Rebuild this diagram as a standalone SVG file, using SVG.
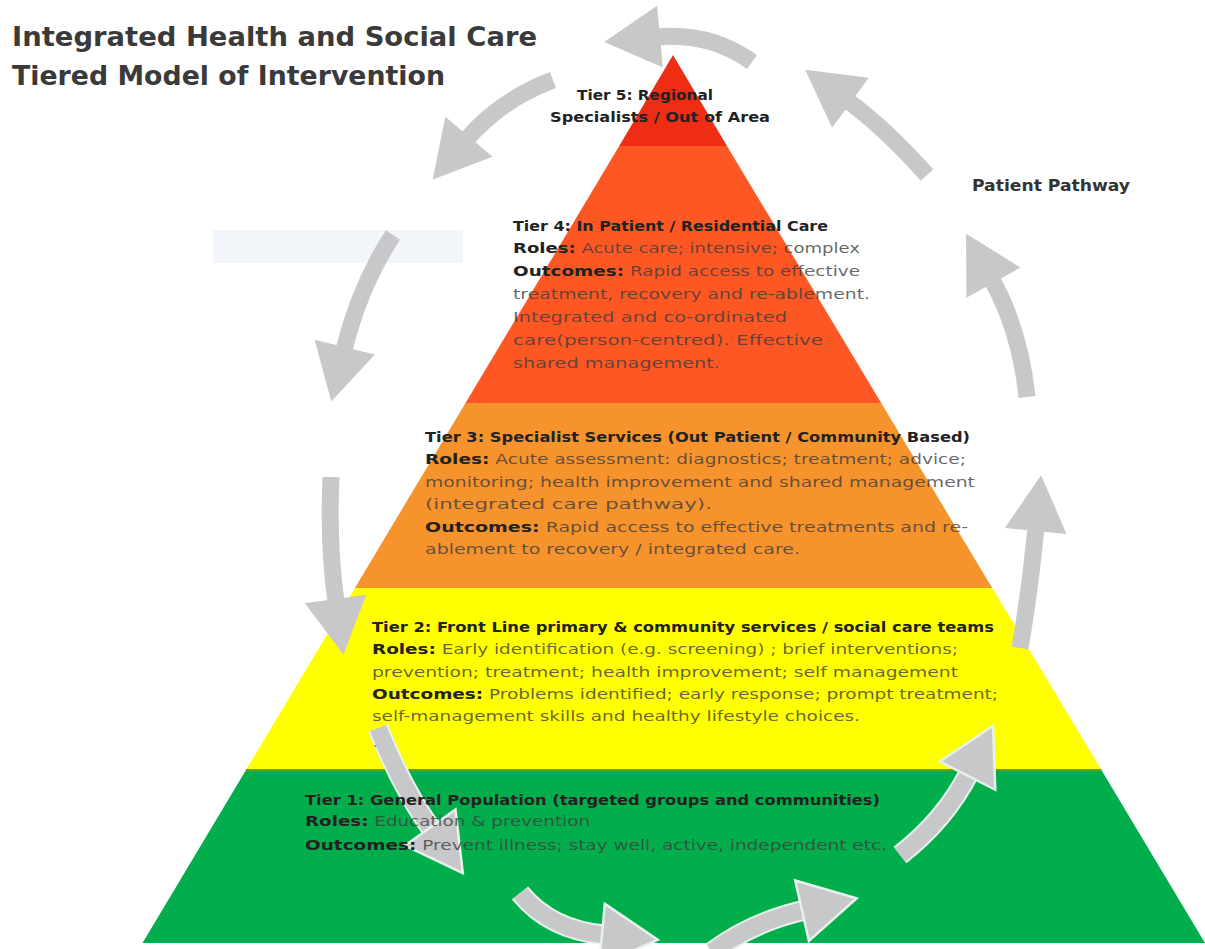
<svg xmlns="http://www.w3.org/2000/svg" width="1205" height="949" viewBox="0 0 1205 949">
<style>
.t{font-family:"DejaVu Sans","Liberation Sans",sans-serif;font-size:14.5px;fill:#3d3d3d;fill-opacity:0.78}
.b{font-weight:bold;fill:#222;fill-opacity:1}
.title{font-family:"DejaVu Sans","Liberation Sans",sans-serif;font-size:27px;font-weight:bold;fill:#3a3a3a}
.sh{fill:none;stroke:#C8C8CA;stroke-width:17}
.ol{fill:none;stroke:#E6F3EC;stroke-width:21}
</style>
<defs>
<marker id="ah" markerUnits="userSpaceOnUse" markerWidth="56" markerHeight="62" viewBox="0 0 56 62" refX="3" refY="31" orient="auto" overflow="visible"><path d="M0,0 L56,31 L0,62 Z" fill="#C8C8CA"/></marker>
<marker id="ah2" markerUnits="userSpaceOnUse" markerWidth="56" markerHeight="62" viewBox="0 0 56 62" refX="3" refY="31" orient="auto" overflow="visible"><path d="M0,0 L56,31 L0,62 Z" fill="#C8C8CA" stroke="#E6F3EC" stroke-width="2.5"/></marker>
</defs>
<rect width="1205" height="949" fill="#fff"/>
<rect x="213" y="230" width="250" height="33" fill="#F2F5FA"/>
<g id="title">
<text class="title" x="12" y="46" textLength="525" lengthAdjust="spacingAndGlyphs">Integrated Health and Social Care</text>
<text class="title" x="12" y="85" textLength="433" lengthAdjust="spacingAndGlyphs">Tiered Model of Intervention</text>
</g>
<g id="tier5"><polygon points="673,55 727,146 619.2,146" fill="#EE2D14"/></g>
<g id="tier4"><polygon points="619.2,146 727,146 881.2,403 465.5,403" fill="#FD5723"/></g>
<g id="tier3"><polygon points="465.5,403 881.2,403 992.2,588 354.9,588" fill="#F7932C"/></g>
<g id="tier2"><polygon points="354.9,588 992.2,588 1101.4,770 246,770" fill="#FFFF00"/></g>
<g id="tier1"><polygon points="246,770 1101.4,770 1205,943 142.5,943" fill="#02AE4C"/><line x1="246" y1="770" x2="1101.4" y2="770" stroke="#6A9A1E" stroke-width="2"/></g>
<g id="connectors">
<path class="sh" d="M927,175 Q885,128 848,101" marker-end="url(#ah)"/>
<path class="sh" d="M752,62 Q710,32 657,37" marker-end="url(#ah)"/>
<path class="sh" d="M553,80 Q500,100 467,139" marker-end="url(#ah)"/>
<path class="sh" d="M393,235 Q360,285 344,350" marker-end="url(#ah)"/>
<path class="sh" d="M331,477 Q328,545 336,602" marker-end="url(#ah)"/>
<path class="ol" d="M378,728 Q402,788 432,830"/>
<path class="sh" d="M378,728 Q402,788 432,830" marker-end="url(#ah2)"/>
<path class="ol" d="M520,893 Q550,930 605,935"/>
<path class="sh" d="M520,893 Q550,930 605,935" marker-end="url(#ah2)"/>
<path class="ol" d="M712,952 Q752,922 805,910"/>
<path class="sh" d="M712,952 Q752,922 805,910" marker-end="url(#ah2)"/>
<path class="ol" d="M900,855 Q945,820 969,773"/>
<path class="sh" d="M900,855 Q945,820 969,773" marker-end="url(#ah2)"/>
<path class="sh" d="M1020,648 Q1030,590 1036,528" marker-end="url(#ah)"/>
<path class="sh" d="M1027,397 Q1020,330 992,280" marker-end="url(#ah)"/>
</g>
<g id="tier5-text">
<text class="t b" x="577" y="100" textLength="136" lengthAdjust="spacingAndGlyphs">Tier 5: Regional</text>
<text class="t b" x="550" y="122" textLength="220" lengthAdjust="spacingAndGlyphs">Specialists / Out of Area</text>
</g>
<g id="tier4-text">
<text class="t b" x="513" y="231" textLength="315" lengthAdjust="spacingAndGlyphs">Tier 4: In Patient / Residential Care</text>
<text class="t" x="513" y="253" textLength="347" lengthAdjust="spacingAndGlyphs"><tspan class="b">Roles:</tspan> Acute care; intensive; complex</text>
<text class="t" x="513" y="276" textLength="347" lengthAdjust="spacingAndGlyphs"><tspan class="b">Outcomes:</tspan>  Rapid access to effective</text>
<text class="t" x="513" y="299" textLength="357" lengthAdjust="spacingAndGlyphs">treatment, recovery and re-ablement.</text>
<text class="t" x="513" y="322" textLength="274" lengthAdjust="spacingAndGlyphs">Integrated and co-ordinated</text>
<text class="t" x="513" y="345" textLength="310" lengthAdjust="spacingAndGlyphs">care(person-centred).  Effective</text>
<text class="t" x="513" y="368" textLength="207" lengthAdjust="spacingAndGlyphs">shared management.</text>
</g>
<g id="tier3-text">
<text class="t b" x="425" y="442" textLength="545" lengthAdjust="spacingAndGlyphs">Tier 3: Specialist Services (Out Patient / Community Based)</text>
<text class="t" x="425" y="464" textLength="541" lengthAdjust="spacingAndGlyphs"><tspan class="b">Roles:</tspan> Acute assessment: diagnostics;  treatment; advice;</text>
<text class="t" x="425" y="487" textLength="550" lengthAdjust="spacingAndGlyphs">monitoring; health improvement and shared management</text>
<text class="t" x="425" y="509" textLength="287" lengthAdjust="spacingAndGlyphs">(integrated care pathway).</text>
<text class="t" x="425" y="532" textLength="543" lengthAdjust="spacingAndGlyphs"><tspan class="b">Outcomes:</tspan>  Rapid access to effective treatments and re-</text>
<text class="t" x="425" y="554" textLength="375" lengthAdjust="spacingAndGlyphs">ablement to recovery / integrated care.</text>
</g>
<g id="tier2-text">
<text class="t b" x="372" y="632" textLength="622" lengthAdjust="spacingAndGlyphs">Tier 2: Front Line primary &amp; community  services  / social care teams</text>
<text class="t" x="372" y="654" textLength="586" lengthAdjust="spacingAndGlyphs"><tspan class="b">Roles:</tspan> Early identification (e.g. screening) ; brief interventions;</text>
<text class="t" x="372" y="677" textLength="586" lengthAdjust="spacingAndGlyphs">prevention; treatment; health improvement; self management</text>
<text class="t" x="372" y="699" textLength="626" lengthAdjust="spacingAndGlyphs"><tspan class="b">Outcomes:</tspan>  Problems identified; early  response; prompt treatment;</text>
<text class="t" x="372" y="721" textLength="488" lengthAdjust="spacingAndGlyphs">self-management skills and healthy lifestyle choices.</text>
<text class="t" x="373" y="747">.</text>
</g>
<g id="tier1-text">
<text class="t b" x="305" y="805" textLength="575" lengthAdjust="spacingAndGlyphs">Tier 1: General Population  (targeted groups and communities)</text>
<text class="t" x="305" y="826" textLength="285" lengthAdjust="spacingAndGlyphs"><tspan class="b">Roles:</tspan> Education &amp; prevention</text>
<text class="t" x="305" y="850" textLength="582" lengthAdjust="spacingAndGlyphs"><tspan class="b">Outcomes:</tspan> Prevent illness; stay well,  active, independent etc.</text>
</g>
<g id="label"><text class="t b" x="972" y="191" style="font-size:16px;fill:#333" textLength="158" lengthAdjust="spacingAndGlyphs">Patient Pathway</text></g>
</svg>
